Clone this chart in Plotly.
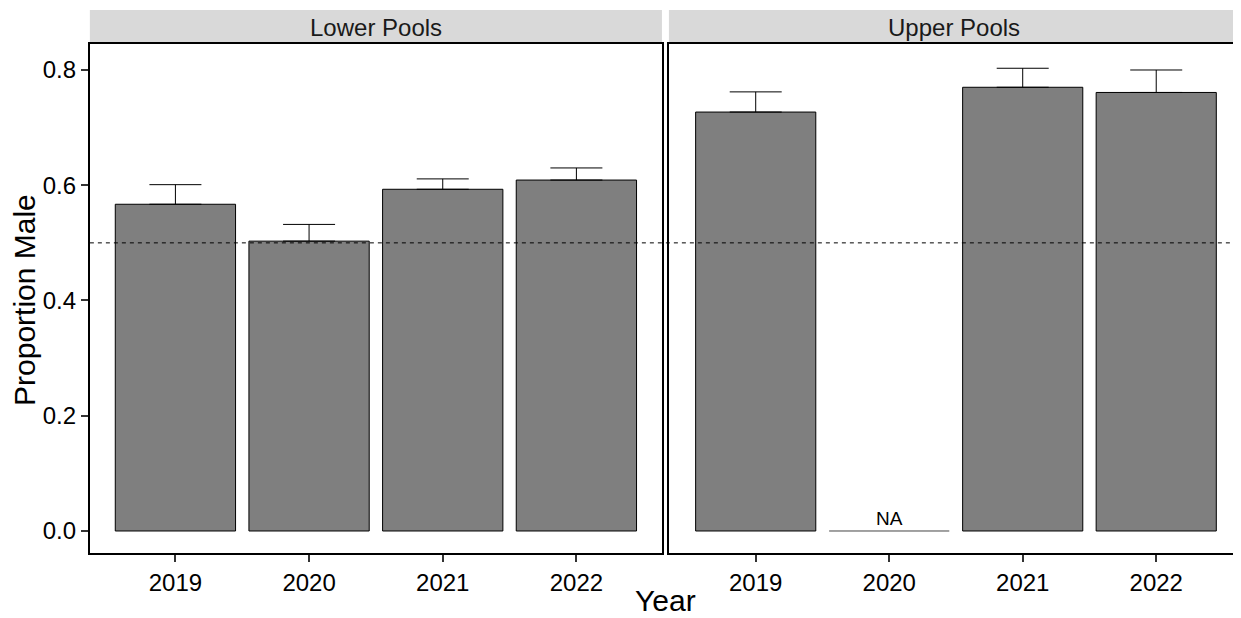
import plotly.graph_objects as go

# data
years = ["2019", "2020", "2021", "2022"]
panels = ["Lower Pools", "Upper Pools"]
lower_prop = [0.567, 0.503, 0.593, 0.609]
lower_err = [0.034, 0.029, 0.018, 0.021]
upper_prop = [0.727, None, 0.770, 0.761]
upper_err = [0.035, None, 0.033, 0.039]
y_ticks = [0.0, 0.2, 0.4, 0.6, 0.8]
ref_line = 0.5

# page body has an 8px margin, so the figure is shifted by OFF
OFF = 8
W, H = 1241 - OFF, 618 - OFF
FONT = "Liberation Sans, Arial, sans-serif"
BAR_W = 0.9


def px(x):
    return (x - OFF) / W


def py(y):
    return 1 - (y - OFF) / H


fig = go.Figure()

series = [(lower_prop, lower_err), (upper_prop, upper_err)]
for i, (vals, errs) in enumerate(series):
    ax = "" if i == 0 else "2"
    fig.add_trace(go.Bar(
        x=years, y=vals, width=BAR_W,
        marker=dict(color="#7F7F7F", line=dict(color="black", width=1)),
        error_y=dict(type="data", symmetric=False, array=errs,
                     arrayminus=[0 if e is not None else None for e in errs],
                     color="black", thickness=1, width=26),
        xaxis="x" + ax, yaxis="y" + ax, showlegend=False,
    ))

# reference line at 0.5, running across both panels
fig.add_shape(type="line", xref="paper", yref="y", x0=px(90), x1=1,
              y0=ref_line, y1=ref_line, layer="above",
              line=dict(color="black", width=1, dash="4px,4px"))

# NA marker for missing upper pools year
for idx, v in enumerate(upper_prop):
    if v is None:
        fig.add_shape(type="line", xref="x2", yref="y2",
                      x0=idx - BAR_W / 2, x1=idx + BAR_W / 2, y0=0, y1=0,
                      line=dict(color="#444444", width=1))
        fig.add_annotation(x=idx, y=0, xref="x2", yref="y2", text="NA",
                           showarrow=False, xanchor="center", yanchor="bottom",
                           font=dict(family=FONT, size=19, color="black"))

# facet strips
strip_x = [(90, 663), (670, 1241)]
for (x0, x1), name in zip(strip_x, panels):
    fig.add_shape(type="rect", xref="paper", yref="paper",
                  x0=px(x0), x1=min(px(x1), 1), y0=py(44), y1=py(10),
                  fillcolor="#D9D9D9", line=dict(width=0), layer="below")
    fig.add_annotation(x=px((x0 + x1) / 2), y=py(27), xref="paper", yref="paper",
                       text=name, showarrow=False, xanchor="center", yanchor="middle",
                       font=dict(family=FONT, size=24, color="#1A1A1A"))

# axis titles
fig.add_annotation(x=px(24), y=py(300), xref="paper", yref="paper",
                   text="Proportion Male", textangle=-90, showarrow=False,
                   xanchor="center", yanchor="middle",
                   font=dict(family=FONT, size=30, color="black"))
fig.add_annotation(x=px(667), y=0, xref="paper", yref="paper",
                   text="Year", showarrow=False, xanchor="center", yanchor="bottom",
                   borderpad=0,
                   font=dict(family=FONT, size=30, color="black"))

y_range = [-0.0382, 0.8451]
common_x = dict(type="category", showline=True, linewidth=2, linecolor="black",
                mirror=True, ticks="outside", ticklen=7, tickwidth=2,
                tickcolor="#333333", showgrid=False, zeroline=False,
                tickfont=dict(family=FONT, size=24, color="black"))
common_y = dict(range=y_range, showline=True, linewidth=2, linecolor="black",
                mirror=True, showgrid=False, zeroline=False,
                tickvals=y_ticks, ticktext=[f"{t:.1f}" for t in y_ticks])

fig.update_layout(
    width=W, height=H,
    margin=dict(l=0, r=0, t=0, b=0),
    paper_bgcolor="white", plot_bgcolor="white",
    xaxis=dict(domain=[px(90), px(663)], range=[-0.64, 3.64], anchor="y", **common_x),
    xaxis2=dict(domain=[px(670), 1.0], range=[-0.65, 3.62], anchor="y2", **common_x),
    yaxis=dict(domain=[py(553), py(44)], anchor="x", ticks="outside", ticklen=7,
               tickwidth=2, tickcolor="#333333",
               tickfont=dict(family=FONT, size=24, color="black"), **common_y),
    yaxis2=dict(domain=[py(553), py(44)], anchor="x2", ticks="",
                showticklabels=False, **common_y),
)

fig.write_html("out.html")
